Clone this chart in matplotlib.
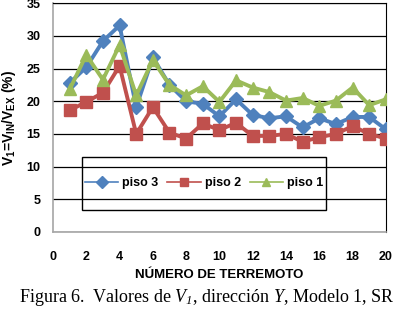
import matplotlib
matplotlib.use('Agg')
import matplotlib.pyplot as plt
from matplotlib.lines import Line2D
from matplotlib.patches import Rectangle
import numpy as np

plt.rcParams['font.family'] = 'Liberation Sans'
plt.rcParams['mathtext.fontset'] = 'custom'
plt.rcParams['mathtext.rm'] = 'Liberation Serif:italic'
plt.rcParams['mathtext.it'] = 'Liberation Serif:italic'
plt.rcParams['mathtext.sf'] = 'Liberation Sans:bold'

sismo = np.arange(1, 21)
piso3 = [22.8, 25.2, 29.2, 31.6, 19.1, 26.7, 22.5, 20.0, 19.6, 17.7,
         20.3, 17.9, 17.4, 17.7, 16.0, 17.4, 16.5, 17.6, 17.6, 15.7]
piso2 = [18.6, 19.9, 21.3, 25.4, 15.0, 19.1, 15.2, 14.3, 16.6, 15.6,
         16.7, 14.7, 14.7, 15.0, 13.8, 14.5, 15.0, 16.2, 15.0, 14.3]
piso1 = [21.8, 27.1, 23.3, 28.6, 20.9, 26.3, 22.5, 20.9, 22.3, 19.9,
         23.2, 22.1, 21.4, 20.1, 20.5, 19.3, 20.1, 22.1, 19.4, 20.3]
etiquetas = ['piso 3', 'piso 2', 'piso 1']
colores = ['#4F81BD', '#C0504D', '#9BBB59']
marcas = ['D', 's', '^']
tam = [7, 9, 9]

fig = plt.figure(figsize=(4.14, 3.2), dpi=100)
ax = fig.add_axes([0.128, 0.275, 0.804, 0.715])

for y, c, m, s in zip([piso3, piso2, piso1], colores, marcas, tam):
    ax.plot(sismo, y, color=c, marker=m, markersize=s, linewidth=2.8, zorder=3)

ax.set_xlim(0, 20)
ax.set_ylim(0, 35)
ax.set_xticks(np.arange(0, 21, 2))
ax.set_yticks(np.arange(0, 36, 5))
ax.yaxis.grid(True, color='black', linewidth=0.9)
ax.set_axisbelow(True)
for lado in ['left', 'bottom']:
    ax.spines[lado].set_color('#A6A6A6')
    ax.spines[lado].set_linewidth(1.2)
ax.spines['right'].set_color('black')
ax.spines['top'].set_color('black')
ax.tick_params(length=0, labelsize=9)
ax.tick_params(axis='x', pad=14)
ax.tick_params(axis='y', pad=9)
for t in ax.get_xticklabels() + ax.get_yticklabels():
    t.set_fontweight('bold')

ax.set_xlabel('NÚMERO DE TERREMOTO', fontsize=9.5, fontweight='bold', labelpad=4)
ax.set_ylabel(r'V$_{\mathsf{1}}$=V$_{\mathsf{IN}}$/V$_{\mathsf{EX}}$ (%)',
              fontsize=10, fontweight='bold', labelpad=6)

# recuadro de la leyenda (transparente, la rejilla se ve a traves)
ax.add_patch(Rectangle((0.087, 0.096), 0.733, 0.232, transform=ax.transAxes,
                       facecolor='none', edgecolor='black', linewidth=1.0, zorder=4))
manijas = [Line2D([], [], color=c, marker=m, markersize=6, linewidth=1.2)
           for c, m in zip(colores, marcas)]
leg = ax.legend(manijas, etiquetas, ncol=3, loc='center',
                bbox_to_anchor=(0.087 + 0.733 / 2, 0.096 + 0.232 / 2),
                frameon=False, handlelength=2.7, handletextpad=0.3,
                columnspacing=0.7, prop={'weight': 'bold', 'size': 9})
leg.set_zorder(5)

fig.text(0.5, 0.07, r'Figura 6.  Valores de $V_1$, dirección $Y$, Modelo 1, SR',
         ha='center', va='center', fontsize=13, family='Liberation Serif')

fig.savefig('out.png', dpi=100)
